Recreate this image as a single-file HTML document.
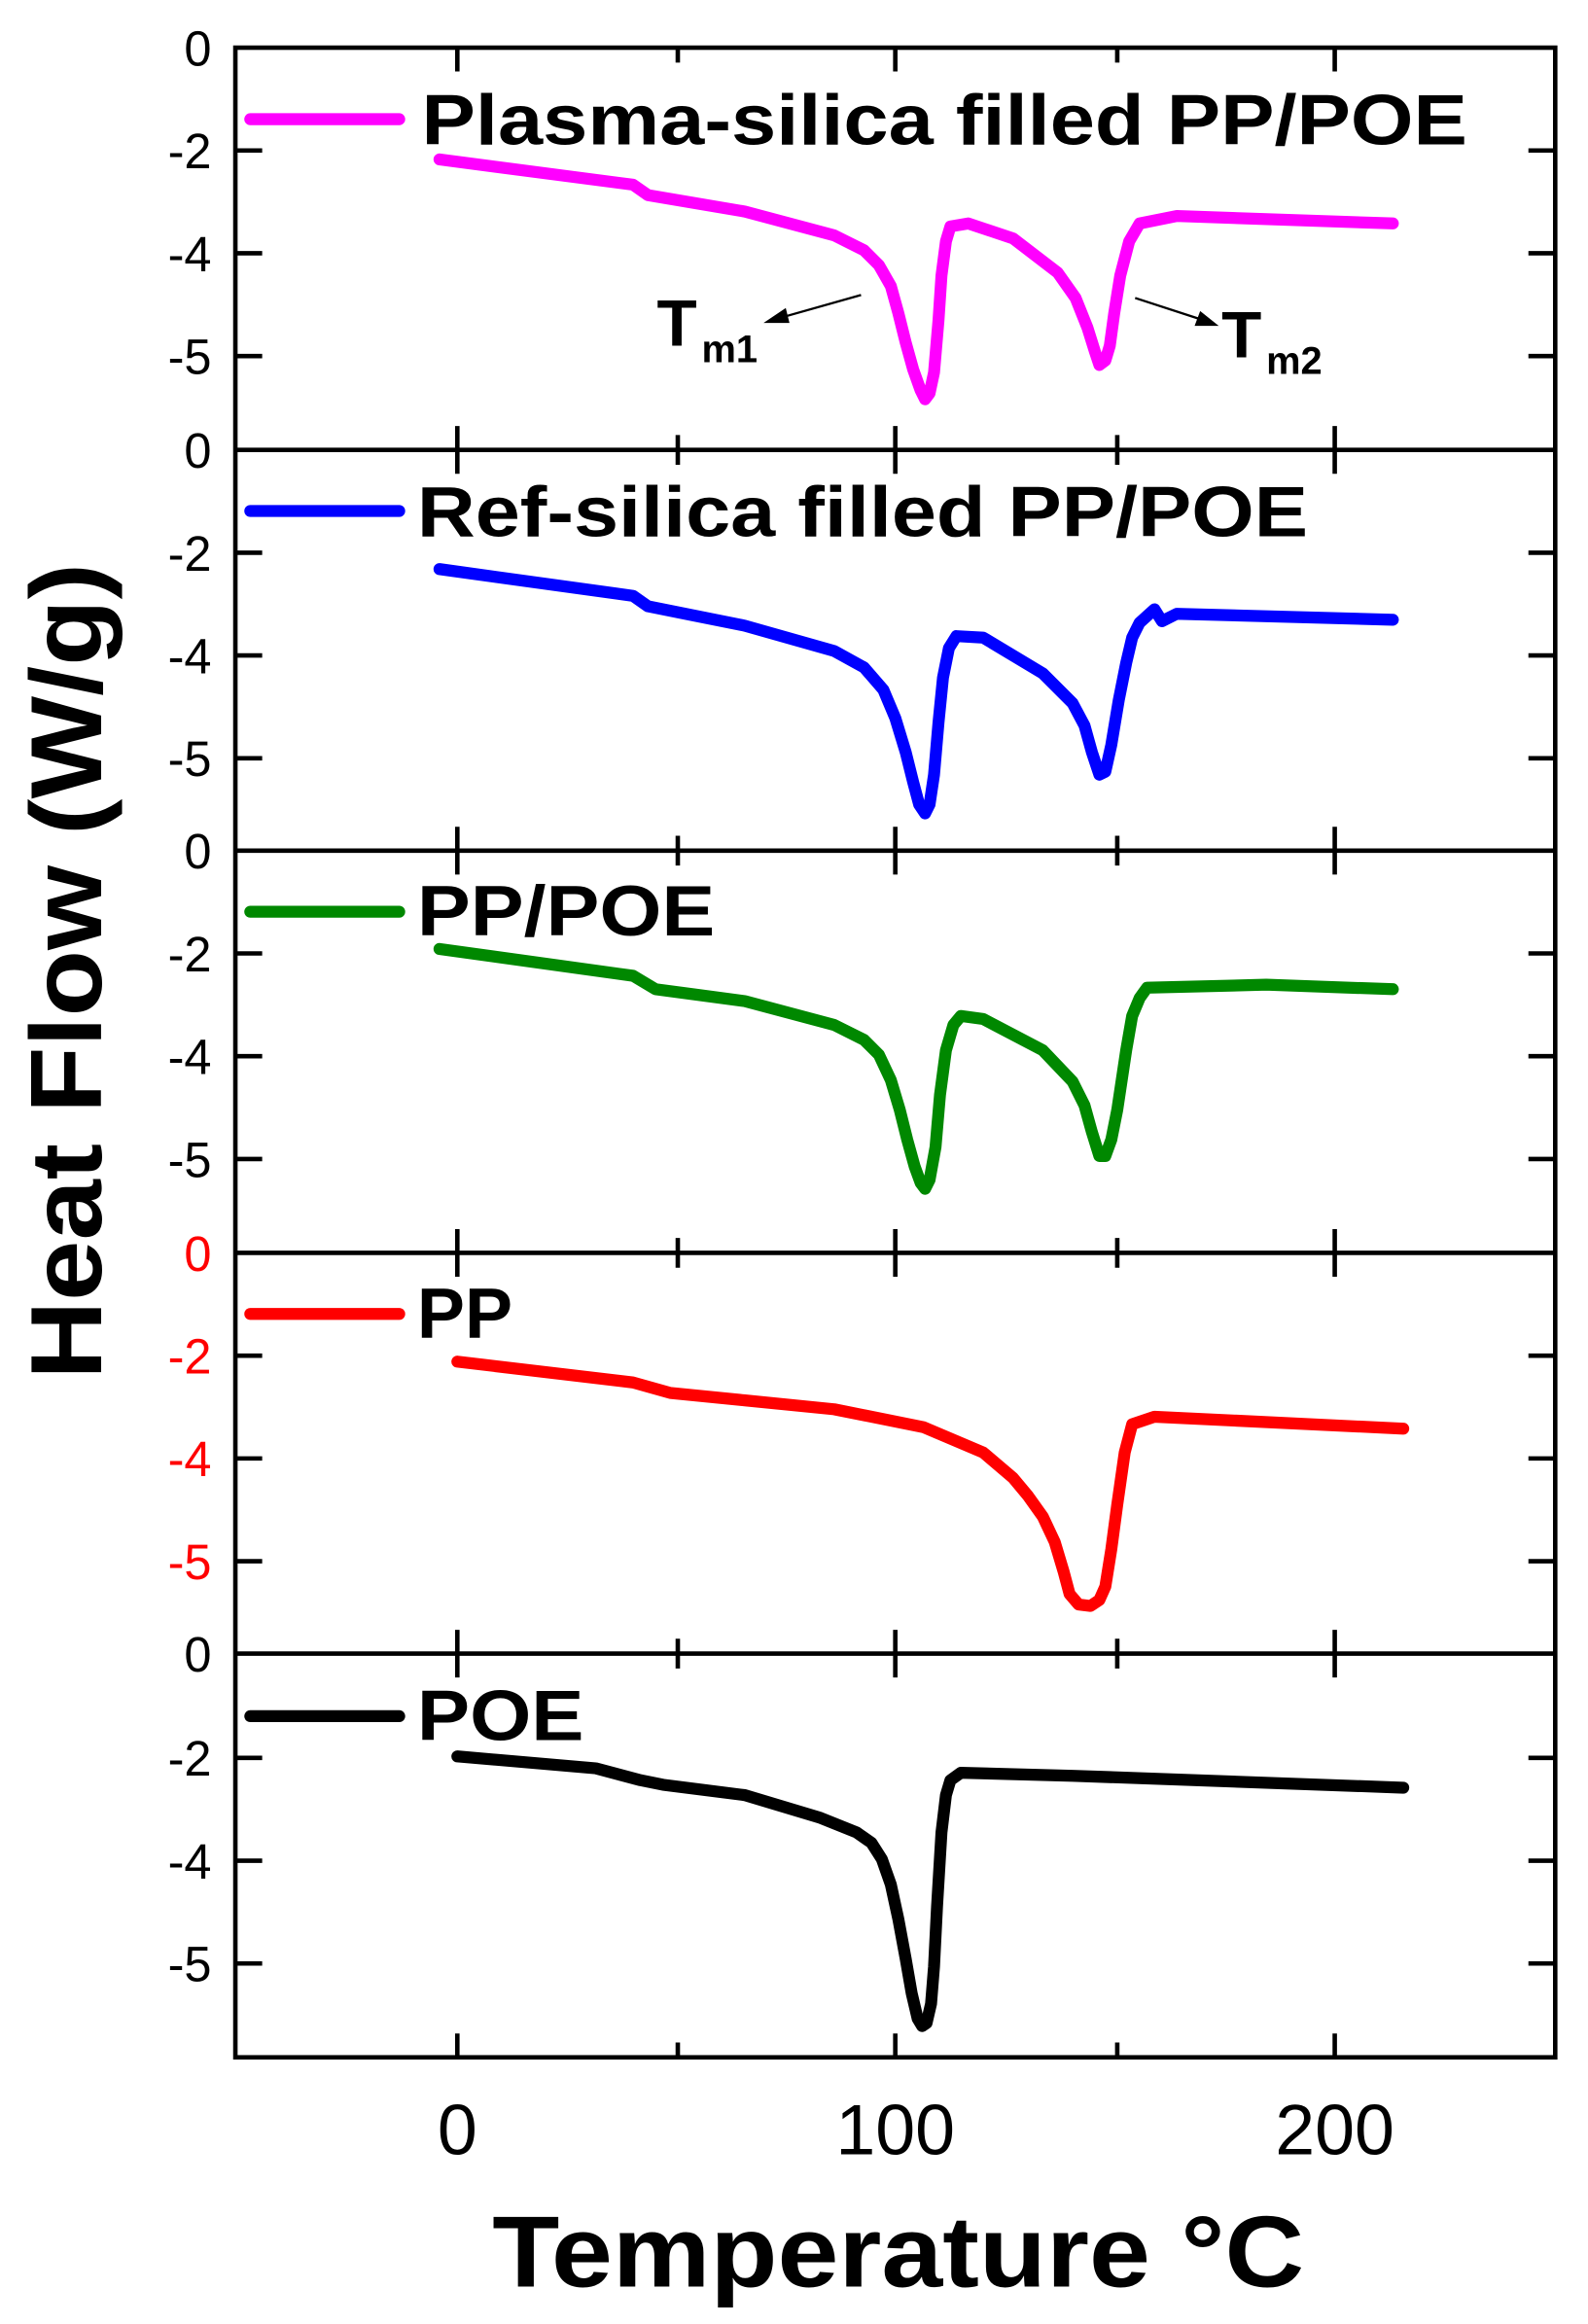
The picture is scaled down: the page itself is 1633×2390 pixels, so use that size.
<!DOCTYPE html>
<html><head><style>html,body{margin:0;padding:0;background:#fff}svg{display:block}</style></head>
<body>
<svg width="1633" height="2390" viewBox="0 0 1066 1560" preserveAspectRatio="none" xmlns="http://www.w3.org/2000/svg" font-family="Liberation Sans, Arial, sans-serif">
<rect width="1066" height="1560" fill="#fff"/>
<g stroke="#000" stroke-width="3" fill="none">
<rect x="158" y="32" width="886" height="1349"/>
<line x1="158" y1="302" x2="1044" y2="302"/>
<line x1="158" y1="571" x2="1044" y2="571"/>
<line x1="158" y1="841" x2="1044" y2="841"/>
<line x1="158" y1="1110" x2="1044" y2="1110"/>
</g>
<g stroke="#000" stroke-width="3">
<path d="
M158 101h18M158 170h18M158 239h18M1044 101h-18M1044 170h-18M1044 239h-18
M158 371h18M158 440h18M158 509h18M1044 371h-18M1044 440h-18M1044 509h-18
M158 640h18M158 709h18M158 778h18M1044 640h-18M1044 709h-18M1044 778h-18
M158 910h18M158 979h18M158 1048h18M1044 910h-18M1044 979h-18M1044 1048h-18
M158 1180h18M158 1249h18M158 1318h18M1044 1180h-18M1044 1249h-18M1044 1318h-18
M307 32v16M455 32v10M601 32v16M750 32v10M896 32v16
M307 302v-16M455 302v-10M601 302v-16M750 302v-10M896 302v-16
M307 302v16M455 302v10M601 302v16M750 302v10M896 302v16
M307 571v-16M455 571v-10M601 571v-16M750 571v-10M896 571v-16
M307 571v16M455 571v10M601 571v16M750 571v10M896 571v16
M307 841v-16M455 841v-10M601 841v-16M750 841v-10M896 841v-16
M307 841v16M455 841v10M601 841v16M750 841v10M896 841v16
M307 1110v-16M455 1110v-10M601 1110v-16M750 1110v-10M896 1110v-16
M307 1110v16M455 1110v10M601 1110v16M750 1110v10M896 1110v16
M307 1381v-16M455 1381v-10M601 1381v-16M750 1381v-10M896 1381v-16"/>
</g>
<g font-size="33" text-anchor="end" fill="#000">
<text x="142" y="44">0</text><text x="142" y="113">-2</text><text x="142" y="182">-4</text><text x="142" y="251">-5</text>
<text x="142" y="314">0</text><text x="142" y="383">-2</text><text x="142" y="452">-4</text><text x="142" y="521">-5</text>
<text x="142" y="583">0</text><text x="142" y="652">-2</text><text x="142" y="721">-4</text><text x="142" y="790">-5</text>
<g fill="#f00"><text x="142" y="853">0</text><text x="142" y="922">-2</text><text x="142" y="991">-4</text><text x="142" y="1060">-5</text></g>
<text x="142" y="1122">0</text><text x="142" y="1192">-2</text><text x="142" y="1261">-4</text><text x="142" y="1330">-5</text>
</g>
<g font-size="48" text-anchor="middle">
<text x="307" y="1446">0</text><text x="601" y="1446">100</text><text x="896" y="1446">200</text>
</g>
<text x="603" y="1535" font-size="68" font-weight="bold" text-anchor="middle" textLength="545" lengthAdjust="spacingAndGlyphs">Temperature °C</text>
<text transform="translate(68,652) rotate(-90)" font-size="68" font-weight="bold" text-anchor="middle" textLength="548" lengthAdjust="spacingAndGlyphs">Heat Flow (W/g)</text>
<g fill="none" stroke-width="8" stroke-linecap="round" stroke-linejoin="round">
<line x1="168" y1="80" x2="268" y2="80" stroke="#f0f"/>
<polyline stroke="#f0f" points="295,107 425,124 435,131 500,142 560,158 580,168 590,178 598,192 603,210 608,230 613,248 618,262 621,268 624,264 627,250 630,215 632,185 635,162 638,152 650,150 680,160 710,183 722,200 730,220 735,236 738,245 742,242 745,232 748,210 752,185 758,162 765,150 790,145 935,150"/>
<line x1="168" y1="343" x2="268" y2="343" stroke="#00f"/>
<polyline stroke="#00f" points="295,382 425,400 435,407 500,420 560,437 580,448 593,463 601,482 608,505 613,525 617,540 621,546 624,540 627,520 630,485 633,455 637,435 642,427 660,428 700,452 720,472 728,487 733,505 738,520 742,518 746,500 751,470 756,445 760,428 765,418 775,409 780,417 790,412 935,416"/>
<line x1="168" y1="612" x2="268" y2="612" stroke="#080"/>
<polyline stroke="#080" points="295,637 425,655 440,664 500,672 560,688 580,698 590,708 598,725 604,745 609,765 614,783 618,794 621,798 624,792 628,770 631,735 635,705 640,688 645,682 660,684 700,705 720,726 728,742 733,760 738,776 742,776 746,765 750,745 756,705 760,682 765,670 770,663 850,661 935,664"/>
<line x1="168" y1="882" x2="268" y2="882" stroke="#f00"/>
<polyline stroke="#f00" points="307,914 425,928 450,935 500,940 560,946 620,958 660,975 680,992 690,1004 700,1018 708,1035 714,1055 718,1070 724,1077 732,1078 738,1074 742,1065 746,1040 750,1010 755,975 760,956 775,951 942,959"/>
<line x1="168" y1="1152" x2="268" y2="1152" stroke="#000"/>
<polyline stroke="#000" points="307,1179 400,1187 430,1195 445,1198 500,1205 550,1220 575,1230 585,1237 592,1248 598,1265 603,1288 608,1315 612,1338 616,1355 619,1360 622,1358 625,1345 627,1320 629,1280 632,1230 635,1205 638,1195 645,1190 720,1192 942,1200"/>
</g>
<g font-size="48" font-weight="bold" fill="#000">
<text x="283" y="97" textLength="702" lengthAdjust="spacingAndGlyphs">Plasma-silica filled PP/POE</text>
<text x="280" y="360" textLength="598" lengthAdjust="spacingAndGlyphs">Ref-silica filled PP/POE</text>
<text x="280" y="628" textLength="200" lengthAdjust="spacingAndGlyphs">PP/POE</text>
<text x="280" y="898">PP</text>
<text x="280" y="1168" textLength="112" lengthAdjust="spacingAndGlyphs">POE</text>
</g>
<g font-weight="bold" fill="#000">
<text x="441" y="232" font-size="44">T</text><text x="471" y="243" font-size="26">m1</text>
<text x="820" y="240" font-size="44">T</text><text x="850" y="251" font-size="26">m2</text>
</g>
<g stroke="#000" stroke-width="1.5" fill="#000">
<line x1="578" y1="198" x2="525" y2="213"/><polygon points="515,216 527,208 529,216"/>
<line x1="762" y1="200" x2="805" y2="214"/><polygon points="816,218 803,218 806,210"/>
</g>
</svg>
</body></html>
